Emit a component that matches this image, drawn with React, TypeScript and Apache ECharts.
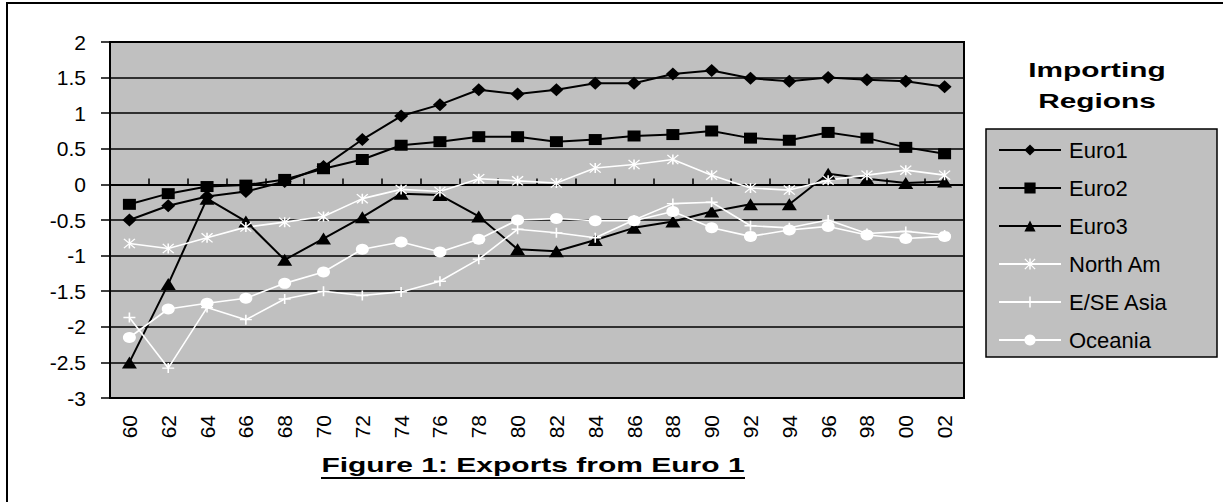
import React, { useEffect, useRef } from "react";
import * as echarts from "echarts";

const years = ["60","62","64","66","68","70","72","74","76","78","80","82","84","86","88","90","92","94","96","98","00","02"];

const euro1 = [-0.5, -0.3, -0.17, -0.1, 0.04, 0.25, 0.63, 0.96, 1.12, 1.33, 1.27, 1.33, 1.42, 1.42, 1.55, 1.6, 1.49, 1.45, 1.5, 1.47, 1.45, 1.37];
const euro2 = [-0.28, -0.13, -0.03, -0.01, 0.07, 0.22, 0.35, 0.55, 0.6, 0.67, 0.67, 0.6, 0.63, 0.68, 0.7, 0.75, 0.65, 0.62, 0.73, 0.65, 0.52, 0.43];
const euro3 = [-2.5, -1.4, -0.2, -0.52, -1.06, -0.76, -0.46, -0.13, -0.15, -0.45, -0.91, -0.94, -0.78, -0.61, -0.52, -0.38, -0.28, -0.28, 0.15, 0.08, 0.02, 0.04];
const northAm = [-0.83, -0.9, -0.75, -0.6, -0.53, -0.45, -0.2, -0.07, -0.1, 0.08, 0.05, 0.02, 0.23, 0.28, 0.35, 0.13, -0.05, -0.08, 0.06, 0.13, 0.2, 0.13];
const esAsia = [-1.87, -2.58, -1.73, -1.9, -1.61, -1.5, -1.56, -1.51, -1.36, -1.05, -0.63, -0.68, -0.75, -0.5, -0.27, -0.25, -0.58, -0.61, -0.5, -0.69, -0.66, -0.71];
const oceania = [-2.15, -1.75, -1.67, -1.6, -1.39, -1.23, -0.91, -0.81, -0.95, -0.77, -0.5, -0.48, -0.51, -0.51, -0.38, -0.61, -0.73, -0.64, -0.59, -0.71, -0.76, -0.73];

const seriesNames = ["Euro1", "Euro2", "Euro3", "North Am", "E/SE Asia", "Oceania"];

const FONT = "'Liberation Sans', Arial, Helvetica, sans-serif";

const PLUS = "path://M0,5 H12 V6.6 H0 Z M5.2,0 H6.8 V11.6 H5.2 Z";
const STAR = "path://M5.2,0 H6.8 V12 H5.2 Z M0,1 L1,0 L12,11 L11,12 Z M11,0 L12,1 L1,12 L0,11 Z";

export default function App() {
  const ref = useRef<HTMLDivElement>(null);

  useEffect(() => {
    if (!ref.current) return;
    const chart = echarts.init(ref.current, undefined, { renderer: "svg" });

    const mk = (name: string, data: number[], color: string, symbol: string, size: number[], width: number) => ({
      name,
      type: "line",
      data,
      symbol,
      symbolSize: size,
      showSymbol: true,
      lineStyle: { color, width },
      itemStyle: { color, borderWidth: 0 },
      emphasis: { disabled: true },
      z: 3,
    });

    chart.setOption({
      animation: false,
      backgroundColor: "#ffffff",
      grid: {
        left: 110,
        top: 42,
        right: 259,
        bottom: 104,
        show: true,
        backgroundColor: "#c0c0c0",
        borderColor: "#000",
        borderWidth: 2,
      },
      legend: {
        orient: "vertical",
        left: 998,
        top: 137,
        padding: 0,
        itemGap: 12,
        itemWidth: 62,
        itemHeight: 14,
        selectedMode: false,
        textStyle: { fontSize: 22, fontFamily: FONT, color: "#000", lineHeight: 26, padding: [0, 0, 0, 3] },
        data: seriesNames,
      },
      xAxis: {
        type: "category",
        data: years,
        boundaryGap: true,
        axisLine: { lineStyle: { color: "#000", width: 2 } },
        axisTick: { show: true, inside: true, length: 6, interval: 0, lineStyle: { color: "#000", width: 1.5 } },
        axisLabel: { rotate: 90, interval: 0, margin: 17, fontSize: 21, fontFamily: FONT, color: "#000" },
        splitLine: { show: false },
      },
      yAxis: {
        type: "value",
        min: -3,
        max: 2,
        interval: 0.5,
        axisLine: { show: true, lineStyle: { color: "#000", width: 2 } },
        axisTick: { show: true, length: 9, lineStyle: { color: "#000", width: 1.5 } },
        axisLabel: { margin: 24, fontSize: 21, fontFamily: FONT, color: "#000" },
        splitLine: { show: true, lineStyle: { color: "#000", width: 1.5 } },
      },
      series: [
        mk("Euro1", euro1, "#000000", "diamond", [14, 13], 2),
        mk("Euro2", euro2, "#000000", "rect", [13, 11], 2),
        mk("Euro3", euro3, "#000000", "triangle", [15, 12], 2),
        mk("North Am", northAm, "#ffffff", STAR, [12, 10], 1.6),
        mk("E/SE Asia", esAsia, "#ffffff", PLUS, [12, 10], 1.6),
        mk("Oceania", oceania, "#ffffff", "circle", [13, 11], 1.6),
      ],
      graphic: [
        { type: "line", shape: { x1: 7, y1: 2, x2: 7, y2: 502 }, style: { stroke: "#000", lineWidth: 2 } },
        { type: "line", shape: { x1: 6, y1: 3, x2: 1223, y2: 3 }, style: { stroke: "#000", lineWidth: 2 } },
        {
          type: "rect",
          shape: { x: 986, y: 129, width: 231, height: 228 },
          style: { fill: "#c0c0c0", stroke: "#000", lineWidth: 1.5 },
          z: -1,
        },
        {
          type: "text",
          x: 1097,
          y: 70,
          scaleX: 1.42,
          style: { text: "Importing", x: 0, y: 0, textAlign: "center", textVerticalAlign: "middle", font: `bold 21px ${FONT}`, fill: "#000" },
        },
        {
          type: "text",
          x: 1097,
          y: 101,
          scaleX: 1.42,
          style: { text: "Regions", x: 0, y: 0, textAlign: "center", textVerticalAlign: "middle", font: `bold 21px ${FONT}`, fill: "#000" },
        },
        {
          type: "text",
          x: 533,
          y: 465,
          scaleX: 1.5,
          style: { text: "Figure 1: Exports from Euro 1", x: 0, y: 0, textAlign: "center", textVerticalAlign: "middle", font: `bold 20px ${FONT}`, fill: "#000" },
        },
        { type: "line", shape: { x1: 321, y1: 478, x2: 745, y2: 478 }, style: { stroke: "#000", lineWidth: 2 } },
      ],
    });

    return () => chart.dispose();
  }, []);

  return (
    <div
      ref={ref}
      style={{ position: "absolute", left: 0, top: 0, width: 1223, height: 502, background: "#fff" }}
    />
  );
}
